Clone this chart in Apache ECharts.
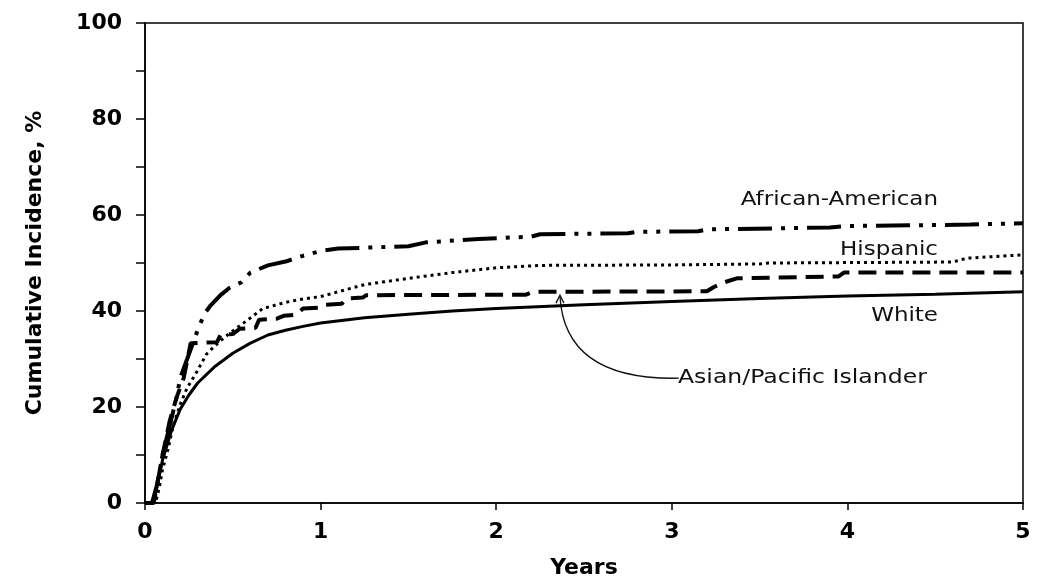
<!DOCTYPE html>
<html>
<head>
<meta charset="utf-8">
<script src="https://cdn.jsdelivr.net/npm/echarts@6/dist/echarts.min.js"></script>
<style>
html,body{margin:0;padding:0;background:#fff;}
#chart{width:1050px;height:585px;}
</style>
</head>
<body>
<div id="chart"></div>
<script>
// ---- Data (years, cumulative incidence %) ----
const xTicks = [0, 1, 2, 3, 4, 5];
const yTicks = [0, 20, 40, 60, 80, 100];

const white = [[0,0],[0.04,0],[0.06,2],[0.1,9],[0.15,15],[0.2,19.5],[0.25,22.5],[0.3,25],[0.4,28.5],[0.5,31.2],[0.6,33.3],[0.7,35],[0.8,36],[0.9,36.8],[1,37.5],[1.25,38.6],[1.5,39.3],[1.75,40],[2,40.5],[2.5,41.3],[3,42],[3.5,42.6],[4,43.1],[4.5,43.5],[5,44]];

const africanAmerican = [[0,0],[0.04,0],[0.07,4],[0.1,10],[0.14,16],[0.18,22],[0.2,26],[0.25,31],[0.28,34],[0.31,37],[0.34,39.5],[0.37,41],[0.43,43.3],[0.48,44.8],[0.55,46],[0.6,48],[0.7,49.5],[0.8,50.3],[0.9,51.5],[1,52.5],[1.1,53],[1.5,53.5],[1.6,54.3],[1.9,55],[2.2,55.5],[2.25,56],[2.75,56.2],[2.8,56.5],[3.15,56.6],[3.2,57],[3.9,57.4],[4.0,57.7],[4.7,58],[5,58.3]];

const hispanic = [[0,0],[0.06,0],[0.08,3],[0.1,7],[0.13,11],[0.16,16],[0.2,20.5],[0.24,24],[0.29,27],[0.35,31],[0.42,33.5],[0.48,35.3],[0.58,38],[0.67,40.5],[0.8,41.8],[0.9,42.5],[1,43],[1.1,44],[1.25,45.5],[1.5,46.8],[1.75,48],[2,49],[2.25,49.5],[3,49.6],[3.5,49.8],[3.55,50],[4.6,50.2],[4.68,51],[5,51.7]];

const asianPacific = [[0,0],[0.05,0],[0.07,4],[0.1,10],[0.14,17],[0.18,22],[0.22,26],[0.26,33.3],[0.41,33.5],[0.43,35],[0.5,35.2],[0.54,36.3],[0.63,36.5],[0.65,38.2],[0.75,38.4],[0.79,39],[0.86,39.2],[0.9,40.5],[1.0,40.7],[1.03,41.3],[1.12,41.5],[1.15,42.6],[1.24,42.8],[1.26,43.3],[2.17,43.4],[2.21,44],[3.2,44.1],[3.24,45],[3.3,46],[3.37,46.8],[3.95,47.2],[3.98,48],[5,48]];

const seriesNames = ['White', 'African-American', 'Hispanic', 'Asian/Pacific Islander'];

// ---- Chart ----
const chart = echarts.init(document.getElementById('chart'), null, {renderer: 'canvas'});
const boldFont = '"DejaVu Sans", Verdana, sans-serif';

const option = {
  animation: false,
  backgroundColor: '#ffffff',
  grid: {left: 145, right: 27, top: 23, bottom: 82, show: true, borderColor: '#000', borderWidth: 1.5, backgroundColor: 'transparent'},
  xAxis: {
    type: 'value', min: 0, max: 5, interval: 1,
    name: 'Years', nameLocation: 'middle', nameGap: 54,
    nameTextStyle: {fontFamily: boldFont, fontWeight: 'bold', fontSize: 22, color: '#000'},
    axisLine: {show: true, lineStyle: {color: '#000', width: 1.5}},
    axisTick: {show: true, length: 7, lineStyle: {color: '#000', width: 1.5}},
    axisLabel: {margin: 18, fontFamily: boldFont, fontWeight: 'bold', fontSize: 22, color: '#000',
      formatter: v => xTicks.includes(v) ? String(v) : ''},
    splitLine: {show: false}
  },
  yAxis: {
    type: 'value', min: 0, max: 100, interval: 20,
    name: 'Cumulative Incidence, %', nameLocation: 'middle', nameGap: 99,
    nameTextStyle: {fontFamily: boldFont, fontWeight: 'bold', fontSize: 22, color: '#000'},
    axisLine: {show: true, lineStyle: {color: '#000', width: 1.5}},
    axisTick: {show: true, length: 9, lineStyle: {color: '#000', width: 1.5}},
    minorTick: {show: true, splitNumber: 2, length: 9, lineStyle: {color: '#000', width: 1.5}},
    axisLabel: {margin: 23, fontFamily: boldFont, fontWeight: 'bold', fontSize: 22, color: '#000',
      formatter: v => yTicks.includes(v) ? String(v) : ''},
    splitLine: {show: false}
  },
  series: [
    {name: seriesNames[0], type: 'line', data: white, showSymbol: false, z: 5,
      lineStyle: {color: '#000', width: 3, type: 'solid'}},
    {name: seriesNames[1], type: 'line', data: africanAmerican, showSymbol: false, z: 4,
      lineStyle: {color: '#000', width: 4, type: [34, 9, 4, 9, 4, 9], cap: 'butt'}},
    {name: seriesNames[2], type: 'line', data: hispanic, showSymbol: false, z: 3,
      lineStyle: {color: '#000', width: 3, type: [3, 4], cap: 'butt'}},
    {name: seriesNames[3], type: 'line', data: asianPacific, showSymbol: false, z: 3,
      lineStyle: {color: '#000', width: 4, type: [18, 9], cap: 'butt'}}
  ]
};
chart.setOption(option);

// ---- Annotations placed in data coordinates ----
function px(pt) { return chart.convertToPixel({gridIndex: 0}, pt); }
const labelFont = '19px "DejaVu Sans", Verdana, sans-serif';
const aa = px([4.516, 63.1]);
const hi = px([4.516, 52.7]);
const wh = px([4.516, 38.9]);
const as = px([3.035, 26.0]);
const tip = px([2.363, 43.3]);
const ctrl = px([2.39, 25.5]);
const end = px([3.04, 26.0]);

function label(p, text, align, sx) {
  return {type: 'text', x: p[0], y: p[1], scaleX: sx,
    style: {text: text, font: labelFont, fill: '#111', align: align, verticalAlign: 'middle'}};
}

chart.setOption({
  graphic: [
    label(aa, 'African-American', 'right', 1.21),
    label(hi, 'Hispanic', 'right', 1.21),
    label(wh, 'White', 'right', 1.21),
    label(as, 'Asian/Pacific Islander', 'left', 1.24),
    {type: 'bezierCurve', shape: {x1: end[0], y1: end[1], cpx1: ctrl[0], cpy1: ctrl[1], x2: tip[0], y2: tip[1] + 1}, style: {stroke: '#111', lineWidth: 1.3, fill: null}},
    {type: 'polyline', shape: {points: [[tip[0] - 4, tip[1] + 8], [tip[0], tip[1]], [tip[0] + 4, tip[1] + 8]]}, style: {stroke: '#111', lineWidth: 1.3, fill: null}}
  ]
});
</script>
</body>
</html>
